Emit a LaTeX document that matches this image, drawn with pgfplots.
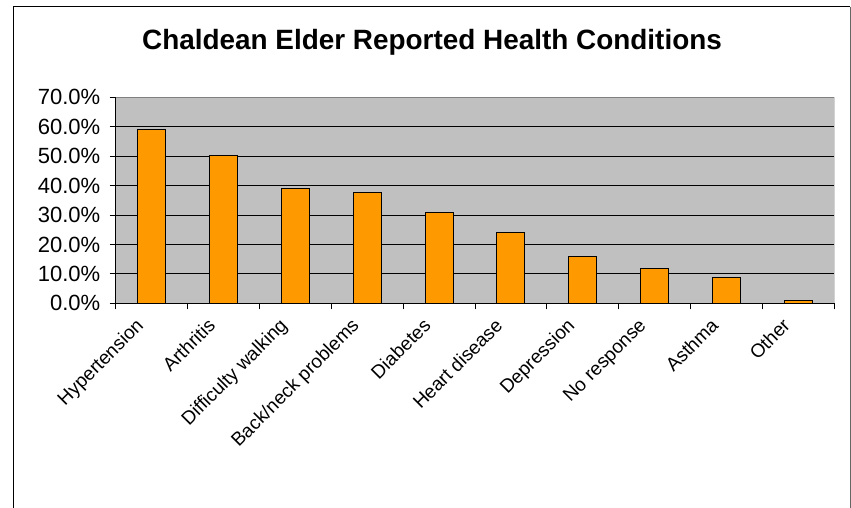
\documentclass[border=0pt]{standalone}
\usepackage{pgfplots}
\pgfplotsset{compat=1.18}
\usepackage{fontspec}
\setmainfont{Liberation Sans}
\definecolor{plotgray}{HTML}{C0C0C0}
\definecolor{barorange}{HTML}{FF9900}
\begin{document}
\begin{tikzpicture}[x=1pt,y=1pt]
\useasboundingbox (0,0) rectangle (851,508);
\draw[line width=1pt,black] (13,-5) -- (13,501.3) -- (850,501.3);
\draw[line width=1pt,black!60] (850,501.3) -- (850,-5);
\node[anchor=base,font=\fontsize{27.9}{33}\selectfont\bfseries,inner sep=0pt] at (432,458) {Chaldean Elder Reported Health Conditions};
\begin{axis}[
  at={(115.7pt,204.7pt)}, anchor=south west,
  scale only axis, width=718.6pt, height=206pt,
  xmin=-0.5, xmax=9.5, ymin=0, ymax=70,
  axis background/.style={fill=plotgray},
  axis x line*=bottom, axis y line*=left,
  axis line style={black, line width=0.8pt},
  ymajorgrids, major grid style={black, line width=0.8pt},
  ytick={0,10,...,70},
  /pgf/number format/assume math mode=true,
  yticklabel={\pgfmathprintnumber[fixed,fixed zerofill,precision=1]{\tick}\%},
  yticklabel style={font=\fontsize{22}{26}\selectfont, xshift=-6pt},
  xtick={-0.5,0.5,1.5,2.5,3.5,4.5,5.5,6.5,7.5,8.5,9.5},
  xticklabels={},
  extra x ticks={0,1,2,3,4,5,6,7,8,9},
  extra x tick labels={Hypertension,Arthritis,Difficulty walking,Back/neck problems,Diabetes,Heart disease,Depression,No response,Asthma,Other},
  extra x tick style={major tick length=0pt, grid=none,
    tick label style={font=\fontsize{19}{23}\selectfont, xshift=-17pt, yshift=-9pt, rotate=45, anchor=north east}},
  tick align=outside, major tick length=6pt,
  tick style={black, line width=0.8pt},
  ybar, bar width=28pt,
]
\addplot[fill=barorange, draw=black, line width=1pt] coordinates {
 (0,59.1) (1,50.2) (2,39.1) (3,37.8) (4,30.8) (5,24.2) (6,16.0) (7,11.8) (8,8.8) (9,1.1)
};
\draw[black!50, line width=0.8pt] (rel axis cs:0,1) -- (rel axis cs:1,1) -- (rel axis cs:1,0);
\end{axis}
\end{tikzpicture}
\end{document}
